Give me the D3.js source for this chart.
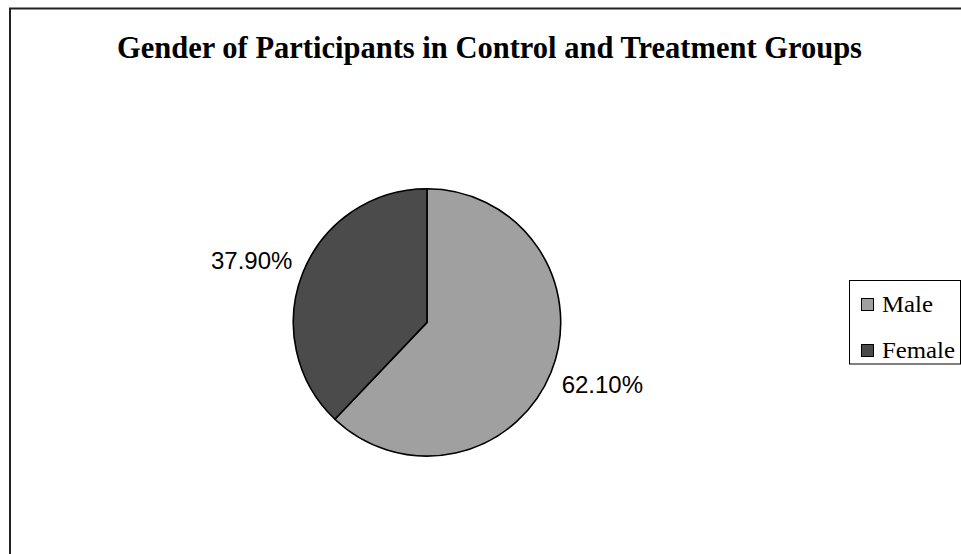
<!DOCTYPE html>
<html>
<head>
<meta charset="utf-8">
<script src="https://cdn.jsdelivr.net/npm/d3@7/dist/d3.min.js"></script>
<style>
  html, body { margin: 0; padding: 0; background: #fff; }
  svg { display: block; }
</style>
</head>
<body>
<svg id="chart" width="961" height="554"></svg>
<script>
const title = "Gender of Participants in Control and Treatment Groups";
const categories = ["Male", "Female"];
const values = [62.1, 37.9];
const labels = ["62.10%", "37.90%"];
const colors = ["#a0a0a0", "#4b4b4b"];

const svg = d3.select("#chart");

// outer chart frame (extends beyond the visible area on right/bottom)
svg.append("rect")
  .attr("x", 10).attr("y", 8.5)
  .attr("width", 1000).attr("height", 600)
  .attr("fill", "#fff")
  .attr("stroke", "#222").attr("stroke-width", 2);

svg.append("text")
  .attr("x", 489.5).attr("y", 58)
  .attr("text-anchor", "middle")
  .attr("font-family", "'Liberation Serif', 'Times New Roman', serif")
  .attr("font-weight", "bold")
  .attr("font-size", 31)
  .attr("textLength", 745)
  .attr("lengthAdjust", "spacingAndGlyphs")
  .attr("fill", "#000")
  .text(title);

const cx = 427, cy = 322.4, r = 133.7;
const pie = d3.pie().sort(null).value(d => d)(values);
const arc = d3.arc().innerRadius(0).outerRadius(r);

const g = svg.append("g").attr("transform", `translate(${cx},${cy})`);
g.selectAll("path.slice")
  .data(pie)
  .join("path")
  .attr("class", "slice")
  .attr("d", arc)
  .attr("fill", (d, i) => colors[i])
  .attr("stroke", "#000")
  .attr("stroke-width", 1.6)
  .attr("stroke-linejoin", "round");

const labelR = 186;
g.selectAll("text.lbl")
  .data(pie)
  .join("text")
  .attr("class", "lbl")
  .attr("x", d => labelR * Math.sin((d.startAngle + d.endAngle) / 2 - 0.04))
  .attr("y", d => -labelR * Math.cos((d.startAngle + d.endAngle) / 2 - 0.04))
  .attr("dy", "0.36em")
  .attr("text-anchor", "middle")
  .attr("font-family", "'Liberation Sans', Arial, sans-serif")
  .attr("font-size", 24)
  .attr("fill", "#000")
  .text((d, i) => labels[i]);

// legend
const lg = svg.append("g");
lg.append("rect")
  .attr("x", 849.5).attr("y", 280.5)
  .attr("width", 111).attr("height", 83.5)
  .attr("fill", "#fff")
  .attr("stroke", "#000").attr("stroke-width", 1);

const items = lg.selectAll("g.item")
  .data(categories)
  .join("g")
  .attr("class", "item")
  .attr("transform", (d, i) => `translate(0, ${i * 46})`);

items.append("rect")
  .attr("x", 861.5).attr("y", 298.5)
  .attr("width", 12).attr("height", 12)
  .attr("fill", (d, i) => colors[i])
  .attr("stroke", "#000").attr("stroke-width", 1);

items.append("text")
  .attr("x", 882).attr("y", 311.5)
  .attr("font-family", "'Liberation Serif', 'Times New Roman', serif")
  .attr("font-size", 24)
  .attr("fill", "#000")
  .attr("textLength", (d) => d === "Female" ? 73 : 51)
  .attr("lengthAdjust", "spacingAndGlyphs")
  .text(d => d);
</script>
</body>
</html>
